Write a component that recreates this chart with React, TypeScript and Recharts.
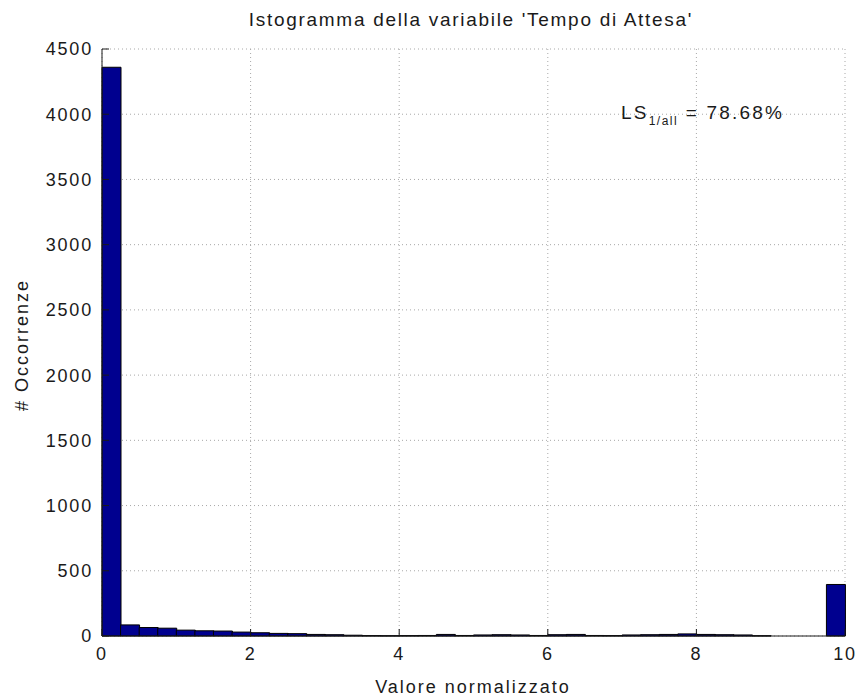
import { BarChart, Bar, XAxis, YAxis, CartesianGrid } from "recharts";

// bin centers of the 40 histogram bins (width 0.25)
const BIN_CENTERS = [
  0.125, 0.375, 0.625, 0.875, 1.125, 1.375, 1.625, 1.875, 2.125, 2.375,
  2.625, 2.875, 3.125, 3.375, 3.625, 3.875, 4.125, 4.375, 4.625, 4.875,
  5.125, 5.375, 5.625, 5.875, 6.125, 6.375, 6.625, 6.875, 7.125, 7.375,
  7.625, 7.875, 8.125, 8.375, 8.625, 8.875, 9.125, 9.375, 9.625, 9.875,
];

const COUNTS = [
  4360, 85, 65, 60, 45, 40, 38, 30, 25, 20,
  18, 12, 10, 6, 3, 2, 3, 4, 12, 4,
  8, 10, 8, 4, 10, 12, 4, 3, 8, 10,
  12, 16, 12, 10, 8, 2, 0, 0, 0, 395,
];

const X_TICKS = [0, 2, 4, 6, 8, 10];
const Y_TICKS = [0, 500, 1000, 1500, 2000, 2500, 3000, 3500, 4000, 4500];

const TITLE = "Istogramma della variabile 'Tempo di Attesa'";
const X_LABEL = "Valore normalizzato";
const Y_LABEL = "# Occorrenze";

const FONT = "'Liberation Sans', Arial, sans-serif";
const INK = "#1a1a1a";
const BAR_COLOR = "#00008f";

const data = BIN_CENTERS.map((center, i) => ({ center, count: COUNTS[i] }));

const tickStyle = { fontSize: 18, fill: INK, fontFamily: FONT, letterSpacing: 1.8 };

export default function App() {
  return (
    <div
      style={{
        position: "absolute",
        left: 0,
        top: 0,
        width: 863,
        height: 700,
        background: "#fff",
        fontFamily: FONT,
        color: INK,
      }}
    >
      <BarChart
        width={863}
        height={700}
        data={data}
        margin={{ top: 49, right: 18, bottom: 0, left: 0 }}
        barCategoryGap={0}
        barGap={0}
      >
        <CartesianGrid
          xAxisId="bottom"
          yAxisId="left"
          stroke="#a8a8a8"
          strokeDasharray="1 3"
        />
        <XAxis
          xAxisId="bottom"
          dataKey="center"
          type="number"
          domain={[0, 10]}
          ticks={X_TICKS}
          height={64}
          tickSize={-7}
          tickMargin={18}
          tick={tickStyle}
          stroke={INK}
        />
        <XAxis
          xAxisId="top"
          orientation="top"
          type="number"
          domain={[0, 10]}
          ticks={X_TICKS}
          height={0}
          tickSize={-7}
          tick={false}
          stroke={INK}
        />
        <YAxis
          yAxisId="left"
          type="number"
          domain={[0, 4500]}
          ticks={Y_TICKS}
          width={102}
          tickSize={-7}
          tickMargin={16}
          tick={tickStyle}
          stroke={INK}
        />
        <YAxis
          yAxisId="right"
          orientation="right"
          type="number"
          domain={[0, 4500]}
          ticks={Y_TICKS}
          width={0}
          tickSize={-7}
          tick={false}
          stroke={INK}
        />
        <Bar
          xAxisId="bottom"
          yAxisId="left"
          dataKey="count"
          fill={BAR_COLOR}
          stroke="#000"
          strokeWidth={1}
          isAnimationActive={false}
        />
      </BarChart>

      <div
        style={{
          position: "absolute",
          left: 471,
          top: 9,
          transform: "translateX(-50%)",
          whiteSpace: "nowrap",
          fontSize: 19,
          letterSpacing: 1.7,
        }}
      >
        {TITLE}
      </div>

      <div
        style={{
          position: "absolute",
          left: 473,
          top: 677,
          transform: "translateX(-50%)",
          whiteSpace: "nowrap",
          fontSize: 18,
          letterSpacing: 2,
        }}
      >
        {X_LABEL}
      </div>

      <div
        style={{
          position: "absolute",
          left: 22,
          top: 345,
          transform: "translate(-50%, -50%) rotate(-90deg)",
          whiteSpace: "nowrap",
          fontSize: 18,
          letterSpacing: 2,
        }}
      >
        {Y_LABEL}
      </div>

      <div
        style={{
          position: "absolute",
          left: 621,
          top: 103,
          whiteSpace: "nowrap",
          fontSize: 19,
          lineHeight: "20px",
          letterSpacing: 2.2,
        }}
      >
        LS
        <sub style={{ fontSize: 12, letterSpacing: 1.5, verticalAlign: "-6px" }}>1/all</sub>
        {" = 78.68%"}
      </div>
    </div>
  );
}
